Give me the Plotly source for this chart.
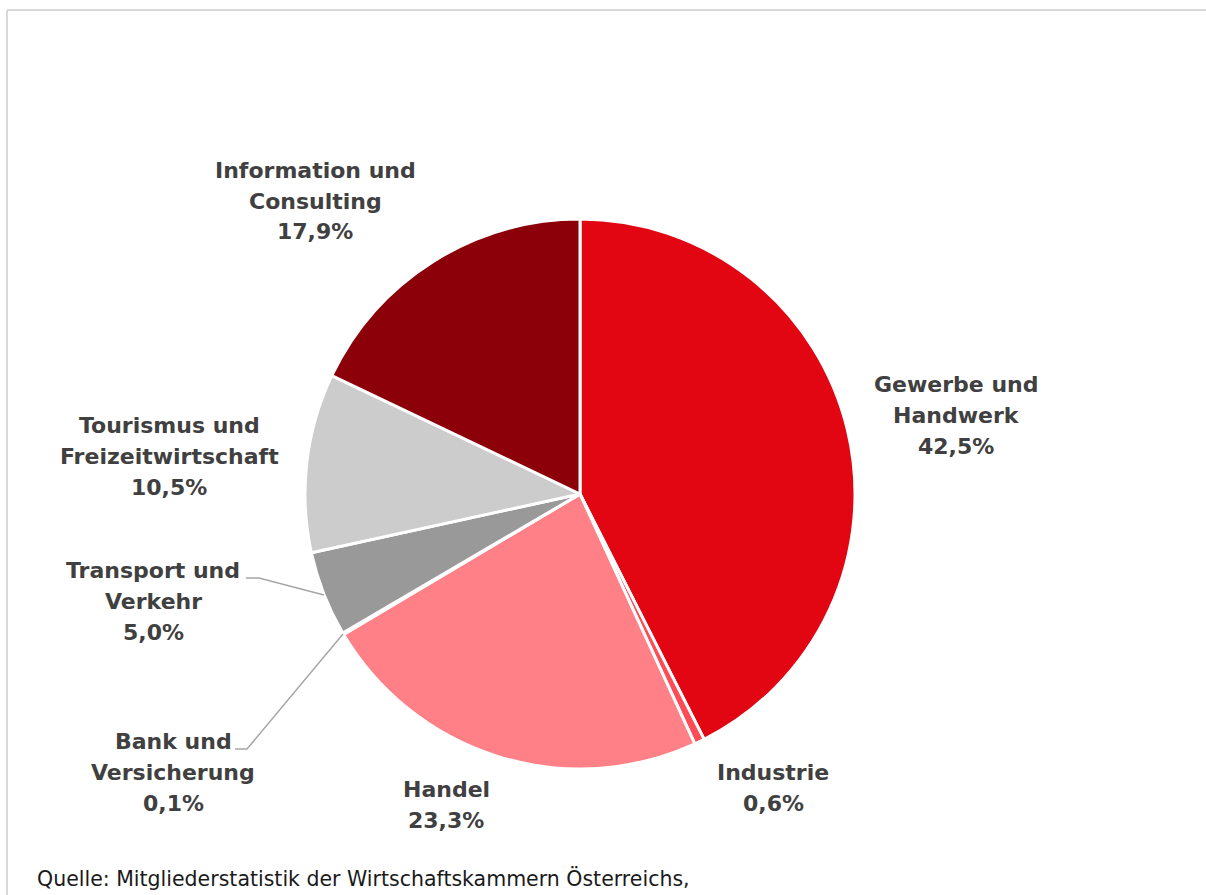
import plotly.graph_objects as go

W, H = 1206, 895

categories = ["Gewerbe und Handwerk", "Industrie", "Handel", "Bank und Versicherung",
              "Transport und Verkehr", "Tourismus und Freizeitwirtschaft", "Information und Consulting"]
label_lines = [["Gewerbe und", "Handwerk"], ["Industrie"], ["Handel"], ["Bank und", "Versicherung"],
               ["Transport und", "Verkehr"], ["Tourismus und", "Freizeitwirtschaft"],
               ["Information und", "Consulting"]]
values = [42.5, 0.6, 23.3, 0.1, 5.0, 10.5, 17.9]
value_labels = ["42,5%", "0,6%", "23,3%", "0,1%", "5,0%", "10,5%", "17,9%"]
colors = ["#E20613", "#FF4B55", "#FF8087", "#C00000", "#999999", "#CCCCCC", "#8B0009"]

# label block centre positions (pixels) for each category
label_pos = [(956, 415), (773, 788), (446, 805), (173, 772), (153, 601), (169, 456), (315, 201)]
LINE_H = 31

cx, cy, r = 580, 494, 275

fig = go.Figure(go.Pie(
    labels=categories, values=values, sort=False, direction="clockwise", rotation=0,
    marker=dict(colors=colors, line=dict(color="white", width=3)),
    textinfo="none", hoverinfo="label+percent", showlegend=False,
    domain=dict(x=[(cx - r) / W, (cx + r) / W], y=[1 - (cy + r) / H, 1 - (cy - r) / H]),
))

def px(x):
    return x / W

def py(y):
    return 1 - y / H

annotations = []
for lines, val, (x, y) in zip(label_lines, value_labels, label_pos):
    all_lines = lines + [val]
    n = len(all_lines)
    for i, t in enumerate(all_lines):
        yy = y + (i - (n - 1) / 2) * LINE_H
        annotations.append(dict(
            x=px(x), y=py(yy), xref="paper", yref="paper", showarrow=False,
            text=f"<b>{t}</b>", align="center",
            font=dict(family="DejaVu Sans", size=22, color="#404040"),
            xanchor="center", yanchor="middle",
        ))

annotations.append(dict(
    x=px(35), y=py(878), xref="paper", yref="paper", showarrow=False,
    text="Quelle: Mitgliederstatistik der Wirtschaftskammern Österreichs,",
    font=dict(family="DejaVu Sans", size=20.5, color="#1a1a1a"),
    xanchor="left", yanchor="middle",
))

shapes = [
    # frame
    dict(type="line", xref="paper", yref="paper", x0=px(7), y0=py(10), x1=px(W + 5), y1=py(10),
         line=dict(color="#D9D9D9", width=2)),
    dict(type="line", xref="paper", yref="paper", x0=px(7), y0=py(10), x1=px(7), y1=py(H + 5),
         line=dict(color="#D9D9D9", width=2)),
    # leader lines
    dict(type="path", xref="paper", yref="paper",
         path=f"M {px(246)},{py(578)} L {px(259)},{py(578)} L {px(324)},{py(595)}",
         line=dict(color="#A6A6A6", width=1.5)),
    dict(type="path", xref="paper", yref="paper",
         path=f"M {px(235)},{py(749)} L {px(247)},{py(749)} L {px(343)},{py(634)}",
         line=dict(color="#A6A6A6", width=1.5)),
]

fig.update_layout(
    width=W, height=H, margin=dict(l=0, r=0, t=0, b=0),
    paper_bgcolor="white", plot_bgcolor="white",
    annotations=annotations, shapes=shapes,
)

fig.write_html("out.html", config={"displayModeBar": False},
               post_script="document.body.style.margin='0';document.body.style.overflow='hidden';")
